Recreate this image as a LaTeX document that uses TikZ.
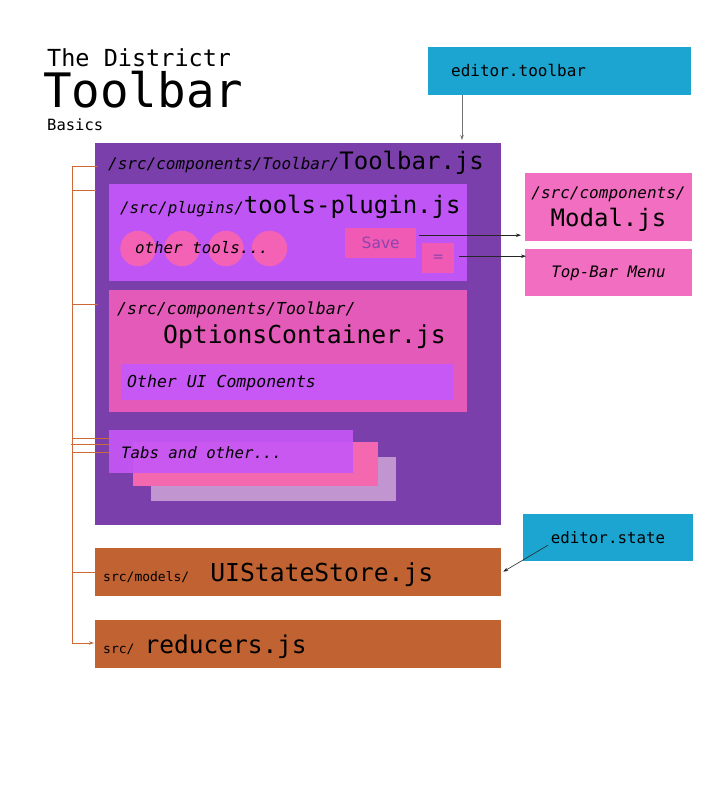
\documentclass[tikz,border=0pt]{standalone}
\usepackage{fontspec}
\setmainfont{DejaVu Sans Mono}
\newfontfamily\dvsans{DejaVu Sans}
\usetikzlibrary{arrows.meta,calc}
\definecolor{tbpurple}{RGB}{123,63,171}
\definecolor{plugviolet}{RGB}{191,85,245}
\definecolor{circpink}{RGB}{244,98,182}
\definecolor{btnpink}{RGB}{240,90,180}
\definecolor{btntext}{RGB}{142,68,173}
\definecolor{modalpink}{RGB}{242,110,192}
\definecolor{optpink}{RGB}{228,90,184}
\definecolor{uiviolet}{RGB}{200,88,245}
\definecolor{tabfront}{RGB}{197,87,244}
\definecolor{tabmid}{RGB}{244,104,176}
\definecolor{tabback}{RGB}{193,150,208}
\definecolor{brown}{RGB}{192,98,50}
\definecolor{edblue}{RGB}{27,165,208}
\definecolor{connorange}{RGB}{205,105,55}
\newcommand{\fs}[1]{\fontsize{#1}{#1}\selectfont}
\tikzset{
  rect/.style={inner sep=0pt, anchor=north west, draw=none},
  lbl/.style={inner sep=0pt, anchor=base west, text=black},
  clbl/.style={inner sep=0pt, anchor=base, text=black},
  arr/.style={draw=black!85, line width=0.6pt, -{Stealth[length=5pt,width=3.5pt]}},
  conn/.style={draw=connorange, line width=0.8pt},
}
\begin{document}
\begin{tikzpicture}[x=1pt,y=-1pt]
\useasboundingbox (0,0) rectangle (716,811);
% title
\node[lbl] (t1) at (47,66) {\fs{23.5}The Districtr};
\node[lbl] (t2) at (43,107) {\fs{47.5}Toolbar};
\node[lbl] (t3) at (47,130) {\fs{15.5}Basics};
% editor.toolbar
\node[rect, fill=edblue, minimum width=263pt, minimum height=48pt] (edtb) at (428,47) {};
\node[lbl] (edtbl) at (451,76) {\fs{16}editor.toolbar};
% Toolbar.js
\node[rect, fill=tbpurple, minimum width=406pt, minimum height=382pt] (toolbar) at (95,143) {};
\node[lbl] (tbl) at (108,169) {{\fs{16}\itshape /src/components/Toolbar/}{\fs{24}Toolbar.js}};
% tools plugin
\node[rect, fill=plugviolet, minimum width=358pt, minimum height=97pt] (plugin) at (109,184) {};
\node[lbl] (plugl) at (120,213) {{\fs{15.8}\itshape /src/plugins/}{\fs{24}tools-plugin.js}};
\foreach \cx/\nm in {138/c1,182/c2,226/c3,269.5/c4}{
  \node[circle, fill=circpink, minimum size=35.5pt, inner sep=0pt] (\nm) at (\cx,248.5) {};
}
\node[lbl] (othert) at (135,253) {\fs{15.8}\itshape other tools...};
\node[rect, fill=btnpink, minimum width=71pt, minimum height=30pt] (save) at (345,228) {};
\node[inner sep=0pt, text=btntext] (savel) at (save.center) {\dvsans\fs{15.5}Save};
\node[rect, fill=btnpink, minimum width=32pt, minimum height=30pt] (eq) at (422,243) {};
\node[inner sep=0pt, text=btntext] (eql) at (eq.center) {\dvsans\fs{14}=};
% Modal and Top-Bar
\node[rect, fill=modalpink, minimum width=167pt, minimum height=68pt] (modal) at (525,173) {};
\node[clbl] (modl1) at (608.5,198) {\fs{16}\itshape /src/components/};
\node[clbl] (modl2) at (608.5,226) {\fs{24}Modal.js};
\node[rect, fill=modalpink, minimum width=167pt, minimum height=47pt] (topbar) at (525,249) {};
\node[clbl] (topl) at (608.5,277) {\fs{15.8}\itshape Top-Bar Menu};
% OptionsContainer
\node[rect, fill=optpink, minimum width=358pt, minimum height=122pt] (opts) at (109,290) {};
\node[lbl] (optl1) at (117,314) {\fs{16.5}\itshape /src/components/Toolbar/};
\node[lbl] (optl2) at (163,343) {\fs{24.7}OptionsContainer.js};
\node[rect, fill=uiviolet, minimum width=332pt, minimum height=36pt] (otherui) at (121,364) {};
\node[lbl] (otherul) at (127,387) {\fs{16.5}\itshape Other UI Components};
% Tabs
\node[rect, fill=tabback, minimum width=245pt, minimum height=44pt] (tabc) at (151,457) {};
\node[rect, fill=tabmid, minimum width=245pt, minimum height=44pt] (tabb) at (133,442) {};
\node[rect, fill=tabfront, fill opacity=0.93, minimum width=244pt, minimum height=43pt] (taba) at (109,430) {};
\node[lbl] (tabl) at (121,458) {\fs{15.7}\itshape Tabs and other...};
% UIStateStore, reducers
\node[rect, fill=brown, minimum width=406pt, minimum height=48pt] (uis) at (95,548) {};
\node[lbl] (uisl) at (103,581) {{\fs{13}src/models/}\hspace{21pt}{\fs{24.7}UIStateStore.js}};
\node[rect, fill=brown, minimum width=406pt, minimum height=48pt] (red) at (95,620) {};
\node[lbl] (redl) at (103,653) {{\fs{13}src/}\hspace{10pt}{\fs{24.5}reducers.js}};
% editor.state
\node[rect, fill=edblue, minimum width=170pt, minimum height=47pt] (edst) at (523,514) {};
\node[clbl] (edstl) at (608,543) {\fs{15.8}editor.state};
% arrows
\draw[arr, draw=black!55] ([xshift=34pt]edtb.south west) -- ([xshift=367pt,yshift=3pt]toolbar.north west);
\draw[arr, shorten >=4pt] ([xshift=3pt,yshift=8pt]save.east) -- ([yshift=8pt]save.east -| modal.west);
\draw[arr, shorten >=4pt] ([xshift=5pt,yshift=2pt]eq.east) -- ([xshift=5pt,yshift=2pt]eq.east -| topbar.west);
\draw[arr, shorten >=1pt] ([xshift=25pt,yshift=-7.5pt]edst.west) -- ([xshift=1pt]uis.east);
% left connectors
\coordinate (k1) at (72,166);
\coordinate (k2) at (72,190);
\coordinate (k3) at (72,304);
\coordinate (k4) at (72,438);
\coordinate (k5) at (72,444);
\coordinate (k6) at (72,452);
\coordinate (k7) at (72,572);
\coordinate (k8) at (72,643);
\draw[conn] (k1) -- (k8);
\draw[conn] (k1) -- ([xshift=3pt]k1 -| toolbar.west);
\draw[conn] (k2) -- ([xshift=1pt]k2 -| toolbar.west);
\draw[conn] (k3) -- ([xshift=3pt]k3 -| toolbar.west);
\draw[conn] (k4) -- ([xshift=14pt]k4 -| toolbar.west);
\draw[conn] ([xshift=-1pt]k5) -- ([xshift=14pt]k5 -| toolbar.west);
\draw[conn] (k6) -- ([xshift=14pt]k6 -| toolbar.west);
\draw[conn] (k7) -- (k7 -| uis.west);
\draw[conn, -{Stealth[length=5pt,width=3.5pt]}] (k8) -- ([xshift=-1pt]k8 -| red.west);
\end{tikzpicture}
\end{document}
